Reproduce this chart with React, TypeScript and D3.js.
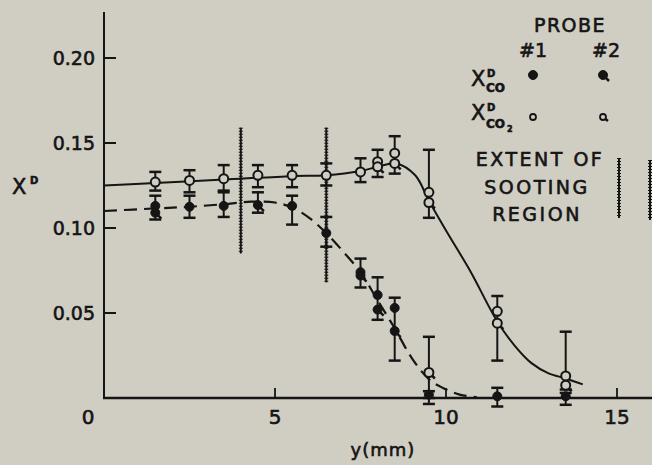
import React from 'react';
import * as d3 from 'd3';

// probe #1 / #2 measurements: position (mm), mole fraction, error bar low / high
const co2Probe1 = [
  { y: 1.5, v: 0.127, lo: 0.122, hi: 0.133 },
  { y: 2.5, v: 0.128, lo: 0.121, hi: 0.134 },
  { y: 3.5, v: 0.129, lo: 0.122, hi: 0.137 },
  { y: 4.5, v: 0.131, lo: 0.124, hi: 0.137 },
  { y: 5.5, v: 0.131, lo: 0.124, hi: 0.137 },
  { y: 6.5, v: 0.131, lo: 0.125, hi: 0.138 },
  { y: 7.5, v: 0.133, lo: 0.127, hi: 0.141 },
  { y: 8.0, v: 0.139, lo: 0.130, hi: 0.146 },
  { y: 8.5, v: 0.144, lo: 0.132, hi: 0.154 },
  { y: 9.5, v: 0.121, lo: 0.106, hi: 0.146 },
  { y: 11.5, v: 0.051, lo: 0.022, hi: 0.060 },
  { y: 13.5, v: 0.013, lo: 0.005, hi: 0.039 },
];
const co2Probe2 = [
  { y: 8.0, v: 0.136 },
  { y: 8.5, v: 0.138 },
  { y: 9.5, v: 0.115 },
  { y: 9.5, v: 0.015, lo: 0.0, hi: 0.036 },
  { y: 11.5, v: 0.044 },
  { y: 13.5, v: 0.0075 },
];
const coProbe1 = [
  { y: 1.5, v: 0.113, lo: 0.105, hi: 0.119 },
  { y: 2.5, v: 0.1125, lo: 0.106, hi: 0.119 },
  { y: 3.5, v: 0.113, lo: 0.1065, hi: 0.121 },
  { y: 5.5, v: 0.113, lo: 0.102, hi: 0.119 },
  { y: 6.5, v: 0.097, lo: 0.089, hi: 0.1065 },
  { y: 7.5, v: 0.074, lo: 0.065, hi: 0.082 },
  { y: 8.0, v: 0.0606, lo: 0.046, hi: 0.071 },
  { y: 8.5, v: 0.053, lo: 0.022, hi: 0.059 },
  { y: 9.5, v: 0.002, lo: -0.0035, hi: 0.004 },
  { y: 11.5, v: 0.001, lo: -0.005, hi: 0.006 },
  { y: 13.5, v: 0.001, lo: -0.004, hi: 0.003 },
];
const coProbe2 = [
  { y: 1.5, v: 0.109 },
  { y: 4.5, v: 0.1135, lo: 0.109, hi: 0.121 },
  { y: 7.5, v: 0.072 },
  { y: 8.0, v: 0.052 },
  { y: 8.5, v: 0.0394 },
];

// fitted curves
const co2Curve: [number, number][] = [
  [0, 0.125], [1.5, 0.1265], [3.5, 0.1285], [5.5, 0.1305], [6.5, 0.131],
  [7.5, 0.1335], [8.0, 0.136], [8.55, 0.138], [9.1, 0.131], [9.5, 0.116],
  [10.0, 0.0985], [10.7, 0.075], [11.5, 0.045], [12.0, 0.031], [12.5, 0.0205],
  [13.0, 0.0145], [13.5, 0.0115], [14.0, 0.008],
];
const coCurve: [number, number][] = [
  [0, 0.110], [1.5, 0.1115], [2.5, 0.1125], [3.5, 0.114], [4.3, 0.1155],
  [5.0, 0.115], [5.5, 0.112], [6.0, 0.106], [6.5, 0.097], [7.0, 0.086],
  [7.5, 0.074], [8.0, 0.0575], [8.5, 0.041], [9.0, 0.0235], [9.5, 0.011],
  [9.9, 0.006], [10.4, 0.002], [10.9, 0.0005],
];

// extent of sooting region (position, bottom, top)
const sootExtents = [
  { y: 4.0, lo: 0.085, hi: 0.159 },
  { y: 6.5, lo: 0.068, hi: 0.159 },
];

const yTicks = [0.05, 0.10, 0.15, 0.20];
const xTicks = [5, 10, 15];
const xTickLabels = ['0', '5', '10', '15'];

const W = 652;
const H = 465;
const BG = '#d0cdc3';
const INK = '#151515';
const FONT = "'DejaVu Sans', sans-serif";

const x = d3.scaleLinear().domain([0, 15]).range([104, 617]);
const yS = d3.scaleLinear().domain([0, 0.2]).range([398, 58]);

const line = d3.line<[number, number]>()
  .x(d => x(d[0]))
  .y(d => yS(d[1]))
  .curve(d3.curveCatmullRom.alpha(0.5));

type Pt = { y: number; v: number; lo?: number; hi?: number };

function ErrorBar({ p }: { p: Pt }) {
  if (p.lo === undefined || p.hi === undefined) return null;
  const cx = x(p.y);
  const top = yS(p.hi);
  const bot = yS(p.lo);
  return (
    <g stroke={INK} strokeWidth={2}>
      <line x1={cx} x2={cx} y1={top} y2={bot} />
      <line x1={cx - 6} x2={cx + 6} y1={top} y2={top} strokeWidth={2.5} />
      <line x1={cx - 6} x2={cx + 6} y1={bot} y2={bot} strokeWidth={2.5} />
    </g>
  );
}

function Marker({ cx, cy, filled, tail }: { cx: number; cy: number; filled: boolean; tail: boolean }) {
  return (
    <g>
      {tail && <line x1={cx} y1={cy} x2={cx + 6} y2={cy + 6} stroke={INK} strokeWidth={2.5} />}
      <circle cx={cx} cy={cy} r={4.5}
        fill={filled ? INK : BG} stroke={INK} strokeWidth={filled ? 1 : 2} />
    </g>
  );
}

function SootLine({ cx, y0, y1 }: { cx: number; y0: number; y1: number }) {
  return (
    <g stroke={INK}>
      <line x1={cx} x2={cx} y1={y0} y2={y1} strokeWidth={2} />
      <line x1={cx} x2={cx} y1={y0} y2={y1} strokeWidth={4} strokeDasharray="1 2" />
    </g>
  );
}

export default function App() {
  return (
    <svg width={W} height={H} style={{ position: 'absolute', left: 0, top: 0, background: BG }}
      fontFamily={FONT}>
      <rect width={W} height={H} fill={BG} />

      {/* axes */}
      <line x1={104} x2={104} y1={12} y2={399} stroke={INK} strokeWidth={2} />
      <line x1={103} x2={W} y1={398} y2={398} stroke={INK} strokeWidth={2.5} />
      <g fill={INK} stroke={INK} strokeWidth={0.6}>
        {yTicks.map(t => (
          <g key={t}>
            <line x1={104} x2={116} y1={yS(t)} y2={yS(t)} strokeWidth={2} />
            <text x={95} y={yS(t) + 7} textAnchor="end" fontSize={19}>{t.toFixed(2)}</text>
          </g>
        ))}
        {xTicks.map(t => (
          <line key={t} x1={x(t)} x2={x(t)} y1={398} y2={388} strokeWidth={1.8} />
        ))}
        {xTickLabels.map((l, i) => (
          <text key={l} x={i === 0 ? 88 : x(+l)} y={424} textAnchor="middle" fontSize={20}>{l}</text>
        ))}
        <text x={383} y={456} textAnchor="middle" fontSize={18} letterSpacing={1}>y(mm)</text>
        <text x={12} y={194} fontSize={21}>X</text>
        <text x={30} y={184} fontSize={10} fontWeight="bold">D</text>
      </g>

      {/* curves */}
      <path d={line(co2Curve) || ''} fill="none" stroke={INK} strokeWidth={2} />
      <path d={line(coCurve) || ''} fill="none" stroke={INK} strokeWidth={2.2} strokeDasharray="13 7" />

      {/* sooting region */}
      {sootExtents.map((s, i) => (
        <SootLine key={i} cx={x(s.y)} y0={yS(s.hi)} y1={yS(s.lo)} />
      ))}

      {/* error bars */}
      {[...co2Probe1, ...co2Probe2, ...coProbe1, ...coProbe2].map((p, i) => (
        <ErrorBar key={i} p={p} />
      ))}

      {/* markers */}
      {coProbe1.map((p, i) => <Marker key={'c1' + i} cx={x(p.y)} cy={yS(p.v)} filled tail={false} />)}
      {coProbe2.map((p, i) => <Marker key={'c2' + i} cx={x(p.y)} cy={yS(p.v)} filled tail />)}
      {co2Probe1.map((p, i) => <Marker key={'o1' + i} cx={x(p.y)} cy={yS(p.v)} filled={false} tail={false} />)}
      {co2Probe2.map((p, i) => <Marker key={'o2' + i} cx={x(p.y)} cy={yS(p.v)} filled={false} tail />)}

      {/* legend */}
      <g fill={INK} stroke={INK} strokeWidth={0.6}>
        <text x={570} y={32} textAnchor="middle" fontSize={19} letterSpacing={1.5}>PROBE</text>
        <text x={533} y={57} textAnchor="middle" fontSize={19}>#1</text>
        <text x={606} y={57} textAnchor="middle" fontSize={19}>#2</text>

        <text x={471} y={86} fontSize={21}>X</text>
        <text x={487} y={77} fontSize={10} fontWeight="bold">D</text>
        <text x={486} y={92} fontSize={12} fontWeight="bold">CO</text>

        <text x={471} y={120} fontSize={21}>X</text>
        <text x={487} y={111} fontSize={10} fontWeight="bold">D</text>
        <text x={486} y={128} fontSize={12} fontWeight="bold">CO</text>
        <text x={507} y={132} fontSize={8} fontWeight="bold">2</text>
      </g>
      <Marker cx={533} cy={75} filled tail={false} />
      <Marker cx={603} cy={75} filled tail />
      <circle cx={533} cy={117} r={3} fill={BG} stroke={INK} strokeWidth={1.8} />
      <g>
        <line x1={603} y1={117} x2={608} y2={121} stroke={INK} strokeWidth={2.5} />
        <circle cx={603} cy={117} r={3} fill={BG} stroke={INK} strokeWidth={1.8} />
      </g>

      <g fill={INK} stroke={INK} strokeWidth={0.6} fontSize={19} letterSpacing={2.5} textAnchor="middle">
        <text x={540} y={166}>EXTENT OF</text>
        <text x={537} y={194}>SOOTING</text>
        <text x={537} y={221}>REGION</text>
      </g>
      <SootLine cx={619} y0={158} y1={218} />
      <SootLine cx={650} y0={160} y1={220} />
    </svg>
  );
}
